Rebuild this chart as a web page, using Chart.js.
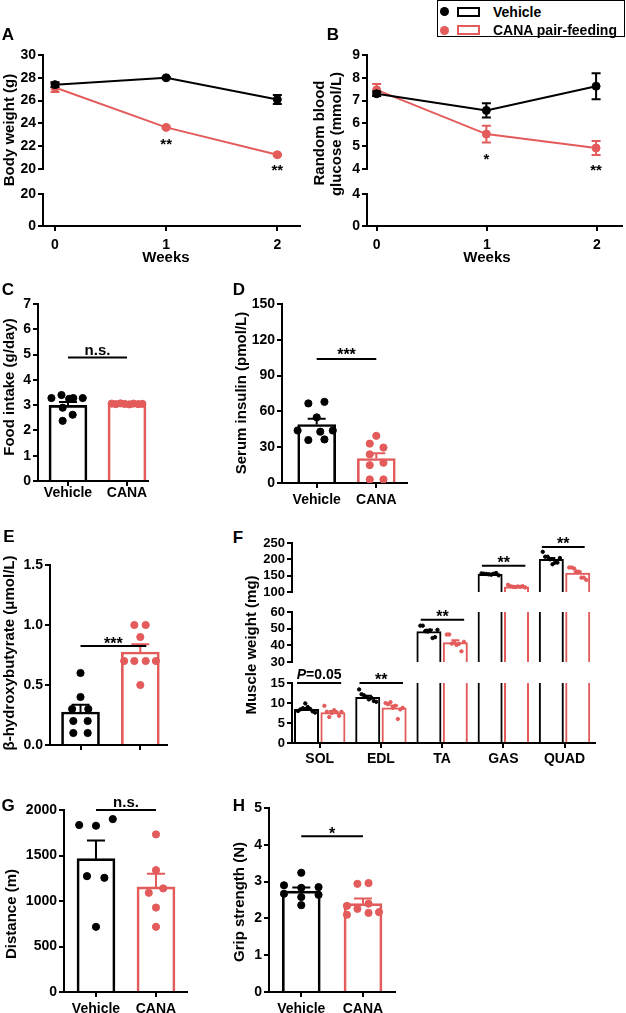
<!DOCTYPE html>
<html>
<head>
<meta charset="utf-8">
<script src="https://cdn.jsdelivr.net/npm/chart.js@4.4.0/dist/chart.umd.min.js"></script>
<style>
  body { margin: 0; background: #fff; width: 626px; height: 1013px; overflow: hidden; position: relative;
         font-family: 'Liberation Sans', Arial, sans-serif; font-weight: bold; color: #000; }
  canvas { position: absolute; }
  .t { position: absolute; white-space: nowrap; transform: translate(-50%, -50%); font-size: 15px; line-height: 1; }
  .r { transform: translate(-50%, -50%) rotate(-90deg); }
  .p { font-size: 17px; }
  .l { transform: translate(0, -50%); font-size: 14px; }
  .box { position: absolute; box-sizing: border-box; }
</style>
</head>
<body>
<div class="box" style="left:437px;top:0;width:188px;height:37px;border:1.5px solid #000"></div>
<div class="box" style="left:440px;top:7px;width:9px;height:9px;border-radius:50%;background:#000"></div>
<div class="box" style="left:457px;top:7px;width:23px;height:10px;border:2px solid #000"></div>
<div class="box" style="left:440px;top:26px;width:9px;height:9px;border-radius:50%;background:#e35b5b"></div>
<div class="box" style="left:457px;top:25px;width:23px;height:10px;border:2px solid #e35b5b"></div>
<script>
// ---- data ----
const BLACK = '#000000';
const RED = '#e35b5b';

const weeks = [0, 1, 2];
const bwVehicle = [27.4, 28.0, 26.1];
const bwVehicleSem = [0.2, 0.08, 0.4];
const bwCana = [27.15, 23.65, 21.25];
const bwCanaSem = [0.4, 0.08, 0.08];
const gluVehicle = [7.3, 6.57, 7.63];
const gluVehicleSem = [0.1, 0.31, 0.57];
const gluCana = [7.47, 5.53, 4.92];
const gluCanaSem = [0.26, 0.37, 0.31];

const groups = ['Vehicle', 'CANA'];

const foodMean = [2.99, 3.05];
const foodSem = [0.13, 0.02];
const foodVehicle = [3.28, 3.4, 3.25, 3.28, 3.28, 2.9, 2.62, 2.38];
const foodVehicleJit = [-0.28, -0.11, 0.02, 0.09, 0.25, -0.09, 0.08, -0.09];
const foodCana = [3.06, 3.04, 3.07, 3.05, 3.03, 3.06, 3.04, 3.05];
const foodCanaJit = [-0.26, -0.19, -0.11, -0.04, 0.04, 0.11, 0.19, 0.26];

const insMean = [49, 20.5];
const insSem = [4.8, 4.5];
const insVehicle = [66.7, 44, 36, 55, 68, 43, 44, 36.5];
const insVehicleJit = [-0.14, -0.32, -0.14, 0, 0.13, 0.06, 0.27, 0.13];
const insCana = [39.5, 33, 29.7, 24, 17, 15, 3, 3];
const insCanaJit = [0, -0.11, 0.12, -0.11, 0.12, -0.11, -0.11, 0.12];

const bhbMean = [0.275, 0.775];
const bhbSem = [0.06, 0.065];
const bhbVehicle = [0.6, 0.4, 0.3, 0.3, 0.2, 0.2, 0.1, 0.1];
const bhbVehicleJit = [0, 0, -0.14, 0.13, -0.12, 0.12, -0.12, 0.12];
const bhbCana = [1.0, 1.0, 0.9, 0.7, 0.7, 0.7, 0.7, 0.5];
const bhbCanaJit = [-0.1, 0.09, 0, -0.27, -0.1, 0.09, 0.26, 0];

const muscles = ['SOL', 'EDL', 'TA', 'GAS', 'QUAD'];
const mwVehicle = [8.5, 11.5, 48.5, 155, 201];
const mwVehicleSem = [0.25, 0.3, 0.8, 1, 3];
const mwCana = [7.7, 8.9, 41.9, 117, 159];
const mwCanaSem = [0.3, 0.45, 1.1, 1, 3];
const solVehicle = [8.0, 8.4, 8.7, 9.9, 9.0, 8.5, 7.9, 7.6];
const solCana = [9.3, 7.8, 6.5, 7.5, 8.2, 7.7, 6.8, 7.8];
const edlVehicle = [13.4, 12.2, 11.9, 11.5, 10.9, 11.3, 10.5, 10.3];
const edlCana = [10.0, 9.7, 10.2, 8.8, 9.3, 6.0, 8.4, 8.8];
const taVehicle = [51.8, 51.8, 48.5, 48.3, 49, 44.4, 44.9, 49.3];
const taCana = [46.5, 46.5, 41, 41.5, 40.2, 41, 36.4, 42.1];
const gasVehicle = [157, 156, 155, 154, 153, 156, 158, 151];
const gasCana = [122, 118, 116, 115, 117, 116, 118, 114];
const quadVehicle = [223, 208, 208, 200, 185, 190, 190, 204];
const quadCana = [175, 175, 172, 163, 162, 144, 144, 137];
const mwJit = [-0.14, -0.1, -0.06, -0.02, 0.02, 0.06, 0.1, 0.14];

const distMean = [1465, 1155];
const distSem = [200, 145];
const distVehicle = [1835, 1827, 1900, 1273, 1255, 716];
const distVehicleJit = [-0.28, 0, 0.28, -0.15, 0.14, 0];
const distCana = [1732, 1339, 1138, 1090, 928, 716];
const distCanaJit = [0, 0, 0.12, -0.12, 0, 0];

const gripMean = [2.74, 2.4];
const gripSem = [0.1, 0.14];
const gripVehicle = [2.9, 2.67, 3.24, 2.83, 2.85, 2.64, 2.58, 2.36];
const gripVehicleJit = [-0.28, -0.28, 0, 0, 0.28, 0.28, 0, 0];
const gripCana = [2.94, 2.96, 2.34, 2.26, 2.4, 2.1, 2.15, 2.17];
const gripCanaJit = [-0.09, 0.09, -0.26, -0.09, 0.09, -0.26, 0.09, 0.26];

// ---- defaults ----
const FAM = "'Liberation Sans', Arial, sans-serif";
Chart.defaults.font.family = FAM;
Chart.defaults.font.size = 14;
Chart.defaults.font.weight = 'bold';
Chart.defaults.color = '#000';

// mean +/- SEM whiskers, drawn right after their dataset
const errPlugin = {
  id: 'err',
  afterDatasetDraw(chart, args) {
    const ds = chart.data.datasets[args.index];
    if (!ds.err) return;
    const { ctx, chartArea: a } = chart;
    const y = chart.scales.y;
    ctx.save();
    ctx.beginPath();
    ctx.rect(a.left - 10, a.top - 1, a.right - a.left + 20, a.bottom - a.top + 2);
    ctx.clip();
    ctx.lineWidth = 2;
    args.meta.data.forEach((el, j) => {
      const v = ds.data[j].y, e = ds.err[j];
      const top = y.getPixelForValue(v + e);
      const bot = y.getPixelForValue(ds.errBoth ? v - e : v);
      const h = (ds.cap || 16) / 2;
      ctx.strokeStyle = Array.isArray(ds.borderColor) ? ds.borderColor[j] : ds.borderColor;
      ctx.beginPath();
      ctx.moveTo(el.x, top); ctx.lineTo(el.x, bot);
      ctx.moveTo(el.x - h, top); ctx.lineTo(el.x + h, top);
      if (ds.errBoth) { ctx.moveTo(el.x - h, bot); ctx.lineTo(el.x + h, bot); }
      ctx.stroke();
    });
    ctx.restore();
  }
};

// significance bars and stars
const sigPlugin = {
  id: 'sig',
  afterDraw(chart, args, opts) {
    const { ctx } = chart;
    const sx = chart.scales.x, sy = chart.scales.y;
    (opts.items || []).forEach(it => {
      const py = sy.getPixelForValue(it.y);
      const p0 = sx.getPixelForValue(it.x0);
      const p1 = it.x1 === undefined ? p0 : sx.getPixelForValue(it.x1);
      ctx.save();
      ctx.strokeStyle = '#000'; ctx.fillStyle = '#000'; ctx.lineWidth = 2;
      if (it.x1 !== undefined) {
        ctx.beginPath(); ctx.moveTo(p0, py); ctx.lineTo(p1, py); ctx.stroke();
      }
      const parts = it.parts || [{ t: it.text }];
      const fonts = parts.map(p => `${p.italic ? 'italic ' : ''}bold ${it.size || 16}px ${FAM}`);
      let w = 0;
      parts.forEach((p, k) => { ctx.font = fonts[k]; w += ctx.measureText(p.t).width; });
      let cx = (p0 + p1) / 2 - w / 2;
      ctx.textAlign = 'left'; ctx.textBaseline = 'alphabetic';
      parts.forEach((p, k) => {
        ctx.font = fonts[k];
        ctx.fillText(p.t, cx, py + (it.dy || 0));
        cx += ctx.measureText(p.t).width;
      });
      ctx.restore();
    });
  }
};
Chart.register(errPlugin, sigPlugin);

// ---- helpers ----
function mount(box, pad) {
  const c = document.createElement('canvas');
  c.width = box.r - box.l + pad.l + pad.r;
  c.height = box.b - box.t + pad.t + pad.b;
  c.style.left = (box.l - pad.l) + 'px';
  c.style.top = (box.t - pad.t) + 'px';
  document.body.appendChild(c);
  return c;
}

function yAxis(min, max, ticks, pad, size, fmt) {
  return {
    type: 'linear', min, max,
    afterBuildTicks: s => { s.ticks = ticks.map(v => ({ value: v })); },
    afterFit: s => { s.width = pad.l; },
    grid: { drawOnChartArea: false, color: '#000', lineWidth: 2, tickLength: 5 },
    border: { color: '#000', width: 2 },
    ticks: { padding: 2, autoSkip: false, font: { size: size || 14 },
             callback: v => fmt ? fmt(v) : String(v) }
  };
}

function xAxis(range, ticks, labels, pad, show, tpad) {
  return {
    type: 'linear', min: range[0], max: range[1], offset: false, display: show,
    afterBuildTicks: s => { s.ticks = ticks.map(v => ({ value: v })); },
    afterFit: s => { s.height = pad.b; },
    grid: { drawOnChartArea: false, color: '#000', lineWidth: 2, tickLength: 5, offset: false },
    border: { color: '#000', width: 2 },
    ticks: { padding: tpad, autoSkip: false, maxRotation: 0,
             callback: v => labels ? (labels[v] ?? '') : String(v) }
  };
}

function make(box, pad, type, datasets, x, y, sig) {
  return new Chart(mount(box, pad), {
    type,
    data: { datasets },
    options: {
      devicePixelRatio: 1, responsive: false, animation: false, events: [],
      layout: { padding: { top: pad.t, right: pad.r, left: 0, bottom: x.display === false ? pad.b : 0 } },
      scales: { x, y },
      plugins: { legend: { display: false }, tooltip: { enabled: false }, sig: { items: sig || [] } }
    }
  });
}

function lineSet(vals, sem, col) {
  return {
    type: 'line', data: weeks.map((w, i) => ({ x: w, y: vals[i] })),
    err: sem, errBoth: true, cap: 9,
    borderColor: col, backgroundColor: col, borderWidth: 2, tension: 0,
    pointRadius: 4, pointBorderWidth: 1, pointBackgroundColor: col, pointBorderColor: col
  };
}

function barSet(means, sems) {
  return {
    type: 'bar', data: means.map((m, i) => ({ x: i, y: m })), err: sems, cap: 18,
    backgroundColor: 'rgba(255,255,255,0)', borderColor: [BLACK, RED], borderWidth: 2,
    barThickness: 38, order: 2
  };
}

function dotSet(vals, jit, xc, col, r) {
  return {
    type: 'scatter', data: vals.map((v, k) => ({ x: xc + jit[k], y: v })),
    backgroundColor: col, borderColor: col, pointRadius: r || 3.6, pointBorderWidth: 1, order: 1
  };
}

function label(text, x, y, cls) {
  const d = document.createElement('div');
  d.className = 't ' + (cls || '');
  d.textContent = text;
  d.style.left = x + 'px';
  d.style.top = y + 'px';
  document.body.appendChild(d);
}

// ---- A: body weight ----
const aRange = [-0.108, 2.204];
let box = { l: 43, t: 55, r: 300, b: 181 }, pad = { l: 40, t: 12, r: 10, b: 12 };
make(box, pad, 'line',
  [lineSet(bwVehicle, bwVehicleSem, BLACK), lineSet(bwCana, bwCanaSem, RED)],
  xAxis(aRange, weeks, null, pad, false, 6),
  yAxis(20, 30, [20, 22, 24, 26, 28, 30], pad),
  [{ x0: 1, y: bwCana[1] - bwCanaSem[1], text: '**', dy: 21, size: 15 },
   { x0: 2, y: bwCana[2] - bwCanaSem[2], text: '**', dy: 19, size: 15 }]);
box = { l: 43, t: 194, r: 300, b: 226 }; pad = { l: 40, t: 12, r: 10, b: 30 };
make(box, pad, 'line', [], xAxis(aRange, weeks, null, pad, true, 6), yAxis(0, 20, [0, 20], pad));

// ---- B: glucose ----
const bRange = [-0.088, 2.227];
box = { l: 367, t: 55, r: 622, b: 181 }; pad = { l: 30, t: 12, r: 4, b: 12 };
make(box, pad, 'line',
  [lineSet(gluVehicle, gluVehicleSem, BLACK), lineSet(gluCana, gluCanaSem, RED)],
  xAxis(bRange, weeks, null, pad, false, 6),
  yAxis(4, 9, [4, 5, 6, 7, 8, 9], pad),
  [{ x0: 1, y: gluCana[1] - gluCanaSem[1], text: '*', dy: 21, size: 15 },
   { x0: 2, y: gluCana[2] - gluCanaSem[2], text: '**', dy: 20, size: 15 }]);
box = { l: 367, t: 194, r: 622, b: 226 }; pad = { l: 30, t: 12, r: 4, b: 30 };
make(box, pad, 'line', [], xAxis(bRange, weeks, null, pad, true, 6), yAxis(0, 4, [0, 4], pad));

// ---- C: food intake ----
box = { l: 38, t: 304, r: 148, b: 481 }; pad = { l: 36, t: 60, r: 6, b: 24 };
make(box, pad, 'bar',
  [barSet(foodMean, foodSem), dotSet(foodVehicle, foodVehicleJit, 0, BLACK), dotSet(foodCana, foodCanaJit, 1, RED)],
  xAxis([-0.508, 1.356], [0, 1], groups, pad, true, -1),
  yAxis(0, 7, [0, 1, 2, 3, 4, 5, 6, 7], pad),
  [{ x0: 0, x1: 1, y: 4.88, text: 'n.s.', size: 15, dy: -3 }]);

// ---- D: insulin ----
box = { l: 282, t: 304, r: 407, b: 483 }; pad = { l: 40, t: 12, r: 6, b: 24 };
make(box, pad, 'bar',
  [barSet(insMean, insSem), dotSet(insVehicle, insVehicleJit, 0, BLACK), dotSet(insCana, insCanaJit, 1, RED)],
  xAxis([-0.582, 1.515], [0, 1], groups, pad, true, 4),
  yAxis(0, 150, [0, 30, 60, 90, 120, 150], pad),
  [{ x0: 0, x1: 1, y: 104, text: '***', dy: 1 }]);

// ---- E: beta-hydroxybutyrate ----
box = { l: 50, t: 565, r: 167, b: 745 }; pad = { l: 40, t: 12, r: 6, b: 16 };
make(box, pad, 'bar',
  [barSet(bhbMean, bhbSem), dotSet(bhbVehicle, bhbVehicleJit, 0, BLACK), dotSet(bhbCana, bhbCanaJit, 1, RED)],
  xAxis([-0.51, 1.446], [0, 1], ['', ''], pad, true, 2),
  yAxis(0, 1.5, [0, 0.5, 1, 1.5], pad, 14, v => v.toFixed(1)),
  [{ x0: 0, x1: 1.1, y: 0.825, text: '***', dy: 3 }]);

// ---- F: muscle weight (three stacked segments) ----
function fSets() {
  const vDots = [solVehicle, edlVehicle, taVehicle, gasVehicle, quadVehicle];
  const cDots = [solCana, edlCana, taCana, gasCana, quadCana];
  const pts = (arr, off) => arr.flatMap((vals, g) => vals.map((v, k) => ({ x: g + off + mwJit[k], y: v })));
  const bar = (vals, sem, col) => ({
    type: 'bar', data: vals.map((v, i) => ({ x: i, y: v })), err: sem, cap: 8,
    backgroundColor: 'rgba(255,255,255,0)', borderColor: col, borderWidth: 2,
    categoryPercentage: 0.863, barPercentage: 0.947, order: 2, clip: 0
  });
  const dots = (data, col) => ({
    type: 'scatter', data, backgroundColor: col, borderColor: col,
    pointRadius: 1.7, pointBorderWidth: 1, order: 1, clip: 0
  });
  return [bar(mwVehicle, mwVehicleSem, BLACK), bar(mwCana, mwCanaSem, RED),
          dots(pts(vDots, -0.216), BLACK), dots(pts(cDots, 0.216), RED)];
}
const fRange = [-0.453, 4.498];
const fIdx = [0, 1, 2, 3, 4];
box = { l: 292, t: 543, r: 595, b: 602 }; pad = { l: 36, t: 16, r: 6, b: 10 };
make(box, pad, 'bar', fSets(), xAxis(fRange, fIdx, muscles, pad, false, 3),
  yAxis(100, 250, [100, 150, 200, 250], pad, 13),
  [{ x0: 2.65, x1: 3.36, y: 180.6, text: '**', dy: 2 },
   { x0: 3.63, x1: 4.33, y: 238, text: '**', dy: 2 }]);
box = { l: 292, t: 612, r: 595, b: 672 }; pad = { l: 36, t: 12, r: 6, b: 10 };
make(box, pad, 'bar', fSets(), xAxis(fRange, fIdx, muscles, pad, false, 3),
  yAxis(30, 60, [30, 40, 50, 60], pad, 13),
  [{ x0: 1.65, x1: 2.36, y: 55.4, text: '**', dy: 2 }]);
box = { l: 292, t: 683, r: 595, b: 743 }; pad = { l: 36, t: 18, r: 6, b: 26 };
make(box, pad, 'bar', fSets(), xAxis(fRange, fIdx, muscles, pad, true, 3),
  yAxis(0, 15, [0, 5, 10, 15], pad, 13),
  [{ x0: -0.37, x1: 0.35, y: 15, parts: [{ t: 'P', italic: true }, { t: '=0.05' }], size: 14, dy: -4 },
   { x0: 0.65, x1: 1.36, y: 15, text: '**', dy: 2 }]);

// ---- G: running distance ----
box = { l: 64, t: 810, r: 187, b: 992 }; pad = { l: 50, t: 20, r: 6, b: 21 };
make(box, pad, 'bar',
  [barSet(distMean, distSem), dotSet(distVehicle, distVehicleJit, 0, BLACK), dotSet(distCana, distCanaJit, 1, RED)],
  xAxis([-0.533, 1.517], [0, 1], groups, pad, true, 3.5),
  yAxis(0, 2000, [0, 500, 1000, 1500, 2000], pad),
  [{ x0: 0, x1: 1, y: 2000, text: 'n.s.', size: 15, dy: -3 }]);

// ---- H: grip strength ----
box = { l: 269, t: 808, r: 395, b: 992 }; pad = { l: 30, t: 12, r: 6, b: 21 };
make(box, pad, 'bar',
  [barSet(gripMean, gripSem), dotSet(gripVehicle, gripVehicleJit, 0, BLACK), dotSet(gripCana, gripCanaJit, 1, RED)],
  xAxis([-0.523, 1.519], [0, 1], groups, pad, true, 3.5),
  yAxis(0, 5, [0, 1, 2, 3, 4, 5], pad),
  [{ x0: 0, x1: 1, y: 4.23, text: '*', dy: 3 }]);

// ---- text ----
label('A', 8, 34, 'p'); label('B', 333, 34, 'p');
label('C', 8, 289, 'p'); label('D', 239, 289, 'p');
label('E', 9, 536, 'p'); label('F', 238, 537, 'p');
label('G', 8, 805, 'p'); label('H', 239, 805, 'p');

label('Body weight (g)', 8, 130, 'r');
label('Weeks', 166, 256);
label('Random blood', 318, 133, 'r');
label('glucose (mmol/L)', 335, 134, 'r');
label('Weeks', 487, 256);
label('Food intake (g/day)', 8, 387, 'r');
label('Serum insulin (pmol/L)', 240, 393, 'r');
label('β-hydroxybutyrate (μmol/L)', 8, 653, 'r');
label('Muscle weight (mg)', 250, 645, 'r');
label('Distance (m)', 10, 914, 'r');
label('Grip strength (N)', 238, 902, 'r');

label('Vehicle', 493, 12, 'l');
label('CANA pair-feeding', 493, 30, 'l');
</script>
</body>
</html>
